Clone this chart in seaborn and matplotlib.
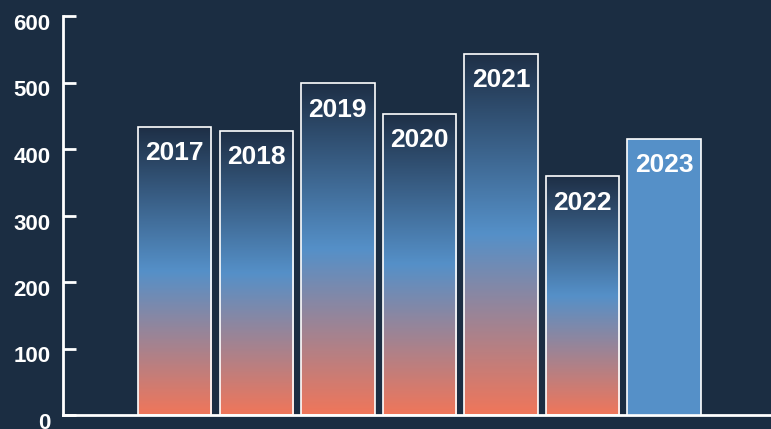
import numpy as np
import pandas as pd
import matplotlib
matplotlib.use("Agg")
import matplotlib.pyplot as plt
import matplotlib.transforms as mtransforms
from matplotlib.colors import LinearSegmentedColormap
import seaborn as sns

# Yearly totals
years = ["2017", "2018", "2019", "2020", "2021", "2022", "2023"]
values = [433, 427, 499, 453, 543, 359, 415]
y_ticks = [0, 100, 200, 300, 400, 500, 600]

BG = "#1b2d42"
BLUE = "#5590c8"
SALMON = "#f0765a"
NAVY = "#1e2f46"

sns.set_theme(style="white")
plt.rcParams["font.family"] = ["Liberation Sans", "DejaVu Sans"]

df = pd.DataFrame({"year": years, "value": values})

fig = plt.figure(figsize=(7.71, 4.29), dpi=100, facecolor=BG)
ax = fig.add_axes([63 / 771, 14 / 429, 1 - 63 / 771 + 0.002, (415 - 16) / 429])
ax.set_facecolor(BG)

sns.barplot(data=df, x="year", y="value", color=BLUE, width=0.9,
            edgecolor="white", linewidth=1.2, saturation=1, ax=ax, zorder=3)

# Vertical gradient (salmon -> blue -> navy) for every bar except the latest year
cmap = LinearSegmentedColormap.from_list(
    "grad", [(0.0, SALMON), (0.5, BLUE), (1.0, NAVY)])
grad = np.linspace(0, 1, 256).reshape(-1, 1)
for i, patch in enumerate(ax.patches):
    if years[i] == "2023":
        continue
    x0, y0 = patch.get_x(), patch.get_y()
    w, h = patch.get_width(), patch.get_height()
    img = ax.imshow(grad, cmap=cmap, aspect="auto", origin="lower",
                    extent=[x0, x0 + w, y0, y0 + h], zorder=2,
                    interpolation="bilinear")
    img.set_clip_path(patch)
    patch.set_facecolor("none")

# Year labels inside the top of each bar
for i, (yr, v) in enumerate(zip(years, values)):
    ax.annotate(yr, xy=(i, v), xytext=(0, -19), textcoords="offset points",
                ha="center", va="center", color="white", fontsize=19,
                fontweight="bold", zorder=5)

ax.set_xlim(-1.37, 7.33)
ax.set_ylim(0, 600)
ax.set_yticks(y_ticks)
ax.set_xticks([])
ax.set_xlabel("")
ax.set_ylabel("")
ax.tick_params(axis="y", left=True, direction="in", length=9, width=2,
               colors="white", labelsize=16, pad=9)
# tick labels sit slightly below their ticks
shift = mtransforms.ScaledTranslation(0, -6 / 100, fig.dpi_scale_trans)
for lbl in ax.get_yticklabels():
    lbl.set_fontweight("bold")
    lbl.set_transform(lbl.get_transform() + shift)

for side in ["top", "right"]:
    ax.spines[side].set_visible(False)
for side in ["left", "bottom"]:
    ax.spines[side].set_color("white")
    ax.spines[side].set_linewidth(2)

fig.savefig("out.png", dpi=100, facecolor=BG)
